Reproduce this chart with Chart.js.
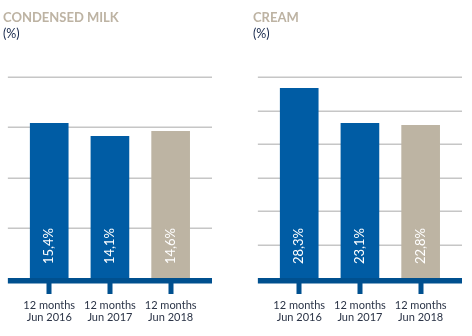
<!DOCTYPE html>
<html>
<head>
<meta charset="utf-8">
<script src="https://cdn.jsdelivr.net/npm/chart.js@4"></script>
<style>
  body { margin: 0; background: #fff; width: 472px; height: 336px; overflow: hidden; position: relative; font-family: Lato, 'Open Sans', sans-serif; }
  .panel { position: absolute; top: 0; height: 336px; }
  .title { position: absolute; left: 3px; top: 9px; font-weight: bold; font-size: 13px; color: #bdb3a3; white-space: nowrap; }
  .unit { position: absolute; left: 3px; top: 26px; font-size: 12.5px; color: #14264a; }
</style>
</head>
<body>
<div class="panel" id="left" style="left:0; width:236px;">
  <canvas id="chartMilk" width="236" height="336"></canvas>
  <div class="title">CONDENSED MILK</div>
  <div class="unit">(%)</div>
</div>
<div class="panel" id="right" style="left:250px; width:222px;">
  <canvas id="chartCream" width="222" height="336"></canvas>
  <div class="title">CREAM</div>
  <div class="unit">(%)</div>
</div>
<script>
'use strict';

// categories and values
var periods = [['12 months', 'Jun 2016'], ['12 months', 'Jun 2017'], ['12 months', 'Jun 2018']];
var milkShare = [15.4, 14.1, 14.6];
var creamShare = [28.3, 23.1, 22.8];
var milkLabels = ['15,4%', '14,1%', '14,6%'];
var creamLabels = ['28,3%', '23,1%', '22,8%'];

var blue = '#005ca4';
var beige = '#bdb4a3';
var barColors = [blue, blue, beige];

// how far gridlines and the axis band reach past the bars area
var ext = 11;

// draws gridlines, thick axis band, tick stubs and rotated value labels
var panelAxis = {
  id: 'panelAxis',
  beforeDatasetsDraw: function (chart) {
    var ctx = chart.ctx;
    var area = chart.chartArea;
    var y = chart.scales.y;
    ctx.save();
    ctx.strokeStyle = '#c6c6c6';
    ctx.lineWidth = 1.5;
    y.ticks.forEach(function (t) {
      if (t.value <= 0) return;
      var py = Math.round(y.getPixelForValue(t.value)) + 0.25;
      ctx.beginPath();
      ctx.moveTo(area.left - ext, py);
      ctx.lineTo(area.right + ext, py);
      ctx.stroke();
    });
    ctx.restore();
  },
  afterDatasetsDraw: function (chart) {
    var ctx = chart.ctx;
    var area = chart.chartArea;
    var base = chart.scales.y.getPixelForValue(0);
    var meta = chart.getDatasetMeta(0);
    var labels = chart.options.plugins.panelAxis.labels;
    ctx.save();
    ctx.fillStyle = '#00508f';
    ctx.fillRect(area.left - ext, base, area.right - area.left + 2 * ext, 5.5);
    meta.data.forEach(function (bar) {
      ctx.fillRect(Math.round(bar.x) - 2.5, base + 5, 5, 11);
    });
    ctx.fillStyle = '#ffffff';
    ctx.font = '13px Lato, "Open Sans", sans-serif';
    ctx.textAlign = 'left';
    ctx.textBaseline = 'middle';
    meta.data.forEach(function (bar, i) {
      ctx.save();
      ctx.translate(bar.x, base - 14);
      ctx.rotate(-Math.PI / 2);
      ctx.fillText(labels[i], 0, 0);
      ctx.restore();
    });
    ctx.restore();
  }
};

function makeChart(canvasId, values, labels, maxValue, rightPad) {
  var ctx = document.getElementById(canvasId).getContext('2d');
  return new Chart(ctx, {
    type: 'bar',
    data: {
      labels: periods,
      datasets: [{
        data: values,
        backgroundColor: barColors,
        borderWidth: 0,
        barThickness: 38
      }]
    },
    options: {
      responsive: false,
      animation: false,
      layout: { padding: { left: 14, right: rightPad, top: 77, bottom: 0 } },
      plugins: {
        legend: { display: false },
        tooltip: { enabled: false },
        panelAxis: { labels: labels }
      },
      scales: {
        x: {
          grid: { display: false, drawTicks: false },
          border: { display: false },
          ticks: {
            padding: 21,
            color: '#2b3447',
            font: { family: 'Lato, "Open Sans", sans-serif', size: 11, lineHeight: 1.1 },
            maxRotation: 0
          },
          afterFit: function (scale) { scale.height = 58; }
        },
        y: {
          display: false,
          min: 0,
          max: maxValue,
          ticks: { stepSize: 5 }
        }
      }
    },
    plugins: [panelAxis]
  });
}

makeChart('chartMilk', milkShare, milkLabels, 20, 35);
makeChart('chartCream', creamShare, creamLabels, 30, 21);
</script>
</body>
</html>
